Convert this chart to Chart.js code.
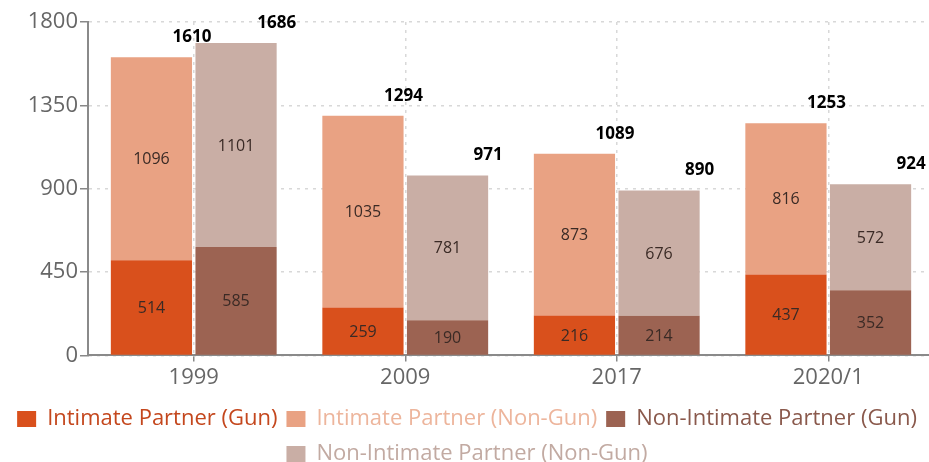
<!DOCTYPE html>
<html>
<head>
<meta charset="utf-8">
<script src="https://cdn.jsdelivr.net/npm/chart.js@4.4.1/dist/chart.umd.min.js"></script>
<style>
  html, body { margin: 0; padding: 0; background: #fff; overflow: hidden; }
  /* the original chart is a little wider than the shot and gets cropped at the right */
  #wrap { width: 934px; height: 462px; }
</style>
</head>
<body>
<div id="wrap"><canvas id="chart"></canvas></div>
<script>
// data
const years = ['1999', '2009', '2017', '2020/1'];
const ipGun = [514, 259, 216, 437];
const ipNonGun = [1096, 1035, 873, 816];
const nipGun = [585, 190, 214, 352];
const nipNonGun = [1101, 781, 676, 572];
const yTicks = [0, 450, 900, 1350, 1800];

const FONT = "'Open Sans', 'Noto Sans', sans-serif";

const seriesStyle = [
    { label: 'Intimate Partner (Gun)', data: ipGun, stack: 'ip', color: '#D9501C', text: '#C4471D' },
    { label: 'Intimate Partner (Non-Gun)', data: ipNonGun, stack: 'ip', color: '#E9A283', text: '#EDB59C' },
    { label: 'Non-Intimate Partner (Gun)', data: nipGun, stack: 'nip', color: '#9C6352', text: '#8A594C' },
    { label: 'Non-Intimate Partner (Non-Gun)', data: nipNonGun, stack: 'nip', color: '#C9AEA5', text: '#C2AAA2' }
];

// legend rows are taller than the swatches, so swatches are drawn here
const BOX_W = 19, BOX_H = 16, ROW_H = 26;

// values inside segments and totals above each stack
const labelPlugin = {
    id: 'labels',
    afterDatasetsDraw(chart) {
        const ctx = chart.ctx;
        ctx.save();
        ctx.textAlign = 'center';
        ctx.textBaseline = 'middle';
        ctx.font = '16px ' + FONT;
        ctx.fillStyle = '#3a2a25';
        chart.data.datasets.forEach((ds, i) => {
            chart.getDatasetMeta(i).data.forEach((bar, j) => {
                const mid = (bar.y + bar.base) / 2;
                ctx.fillText(ds.data[j], bar.x, mid + 1);
            });
        });
        // totals: top dataset of each stack
        ctx.font = 'bold 17px ' + FONT;
        ctx.fillStyle = '#000';
        [1, 3].forEach(top => {
            const lower = top - 1;
            chart.getDatasetMeta(top).data.forEach((bar, j) => {
                const total = chart.data.datasets[top].data[j] + chart.data.datasets[lower].data[j];
                ctx.fillText(total, bar.x + bar.width / 2, bar.y - 20);
            });
        });
        ctx.restore();
    },
    afterDraw(chart) {
        const ctx = chart.ctx;
        const boxes = chart.legend.legendHitBoxes || [];
        ctx.save();
        boxes.forEach((hb, i) => {
            ctx.fillStyle = seriesStyle[i].color;
            ctx.fillRect(hb.left, hb.top + (ROW_H - BOX_H) / 2, BOX_W, BOX_H);
        });
        ctx.restore();
    }
};

new Chart(document.getElementById('chart'), {
    type: 'bar',
    data: {
        labels: years,
        datasets: seriesStyle.map(s => ({
            label: s.label,
            data: s.data,
            stack: s.stack,
            backgroundColor: s.color,
            borderWidth: 0,
            categoryPercentage: 0.8,
            barPercentage: 0.96
        }))
    },
    options: {
        responsive: true,
        maintainAspectRatio: false,
        animation: false,
        layout: { padding: { top: 22, left: 0, right: 0, bottom: -15 } },
        plugins: {
            tooltip: { enabled: false },
            legend: {
                position: 'bottom',
                title: { display: true, text: '', font: { size: 1 }, padding: { top: 0, bottom: 2 } },
                labels: {
                    font: { family: FONT, size: 22 },
                    boxWidth: BOX_W,
                    boxHeight: ROW_H,
                    padding: 9,
                    generateLabels(chart) {
                        return seriesStyle.map((s, i) => ({
                            text: s.label,
                            fillStyle: 'rgba(0,0,0,0)',
                            strokeStyle: 'rgba(0,0,0,0)',
                            lineWidth: 0,
                            fontColor: s.text,
                            datasetIndex: i,
                            hidden: false
                        }));
                    }
                }
            }
        },
        scales: {
            x: {
                stacked: true,
                grid: {
                    offset: false,
                    color: '#d8d8d8',
                    tickColor: '#888',
                    tickLength: 6,
                    lineWidth: 1.5
                },
                border: { color: '#8a8a8a', width: 2, dash: [3, 5] },
                ticks: { font: { family: FONT, size: 22 }, color: '#666', padding: 3 }
            },
            y: {
                stacked: true,
                min: 0,
                max: yTicks[yTicks.length - 1],
                afterBuildTicks(axis) { axis.ticks = yTicks.map(v => ({ value: v })); },
                afterFit(axis) { axis.width = 88; },
                grid: {
                    color: '#d8d8d8',
                    tickColor: '#888',
                    tickLength: 8,
                    lineWidth: 1.5
                },
                border: { color: '#8a8a8a', width: 2, dash: [3, 5] },
                ticks: {
                    font: { family: FONT, size: 22 },
                    color: '#666',
                    padding: 2,
                    callback: v => String(v)
                }
            }
        }
    },
    plugins: [labelPlugin]
});
</script>
</body>
</html>
